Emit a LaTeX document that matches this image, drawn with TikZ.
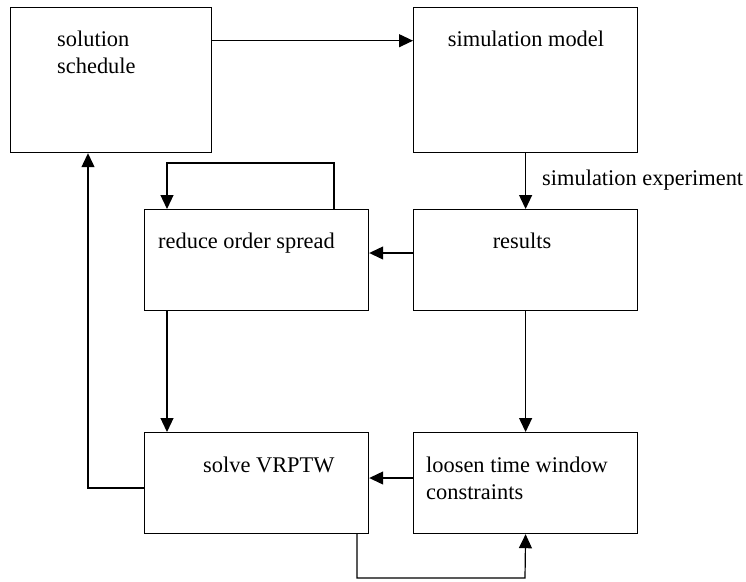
\documentclass[tikz,border=0pt]{standalone}
\usepackage{fontspec}
\setmainfont{Liberation Serif}
\usetikzlibrary{arrows.meta}
\begin{document}
\begin{tikzpicture}[x=1pt,y=-1pt,
  box/.style={draw,line width=1.2pt,rectangle,inner sep=0pt,anchor=north west},
  lbl/.style={inner sep=0pt,anchor=base west,align=left,font=\fontsize{22.4}{27}\selectfont},
  conn/.style={line width=1.2pt},
  arr/.style={conn,-{Triangle[length=14pt,width=13pt]}}]
\useasboundingbox (0,0) rectangle (746,581);
\node[box,minimum width=201.5pt,minimum height=145.3pt] (sol) at (9.5,6.7) {};
\node[box,minimum width=224pt,minimum height=145pt] (sim) at (413,7) {};
\node[box,minimum width=224pt,minimum height=101pt] (red) at (144,209) {};
\node[box,minimum width=224pt,minimum height=101pt] (res) at (413,209) {};
\node[box,minimum width=224pt,minimum height=101pt] (slv) at (144,432) {};
\node[box,minimum width=224pt,minimum height=101pt] (loo) at (413,432) {};

\node[lbl] (tsol) at (57,73) {solution\\schedule};
\node[lbl,anchor=base] (tsim) at (526,46) {simulation model};
\node[lbl] (tred) at (158,248) {reduce order spread};
\node[lbl,anchor=base] (tres) at (522,248) {results};
\node[lbl] (tslv) at (203,472) {solve VRPTW};
\node[lbl] (tloo) at (426,499) {loosen time window\\constraints};
\node[lbl] (texp) at (542,185) {simulation experiment};

\coordinate (c1) at (334,163);
\coordinate (c2) at (167,163);
\coordinate (c3) at (88,488);
\coordinate (c4) at (357,578);
\coordinate (c5) at (525,578);

\draw[arr] (sol.east |- 0,40.7) -- (sim.west |- 0,40.7);
\draw[arr] (sim.south) -- (res.north);
\draw[arr] (red.north -| c1) -- (c1) -- (c2) -- (red.north -| c2);
\draw[arr] (res.west |- 0,253) -- (red.east |- 0,253);
\draw[arr] (red.south -| c2) -- (slv.north -| c2);
\draw[arr] (res.south) -- (loo.north);
\draw[arr] (loo.west |- 0,478) -- (slv.east |- 0,478);
\draw[arr] (slv.west |- c3) -- (c3) -- (sol.south -| c3);
\draw[arr] (slv.south -| c4) -- (c4) -- (c5) -- (loo.south);
\end{tikzpicture}
\end{document}
